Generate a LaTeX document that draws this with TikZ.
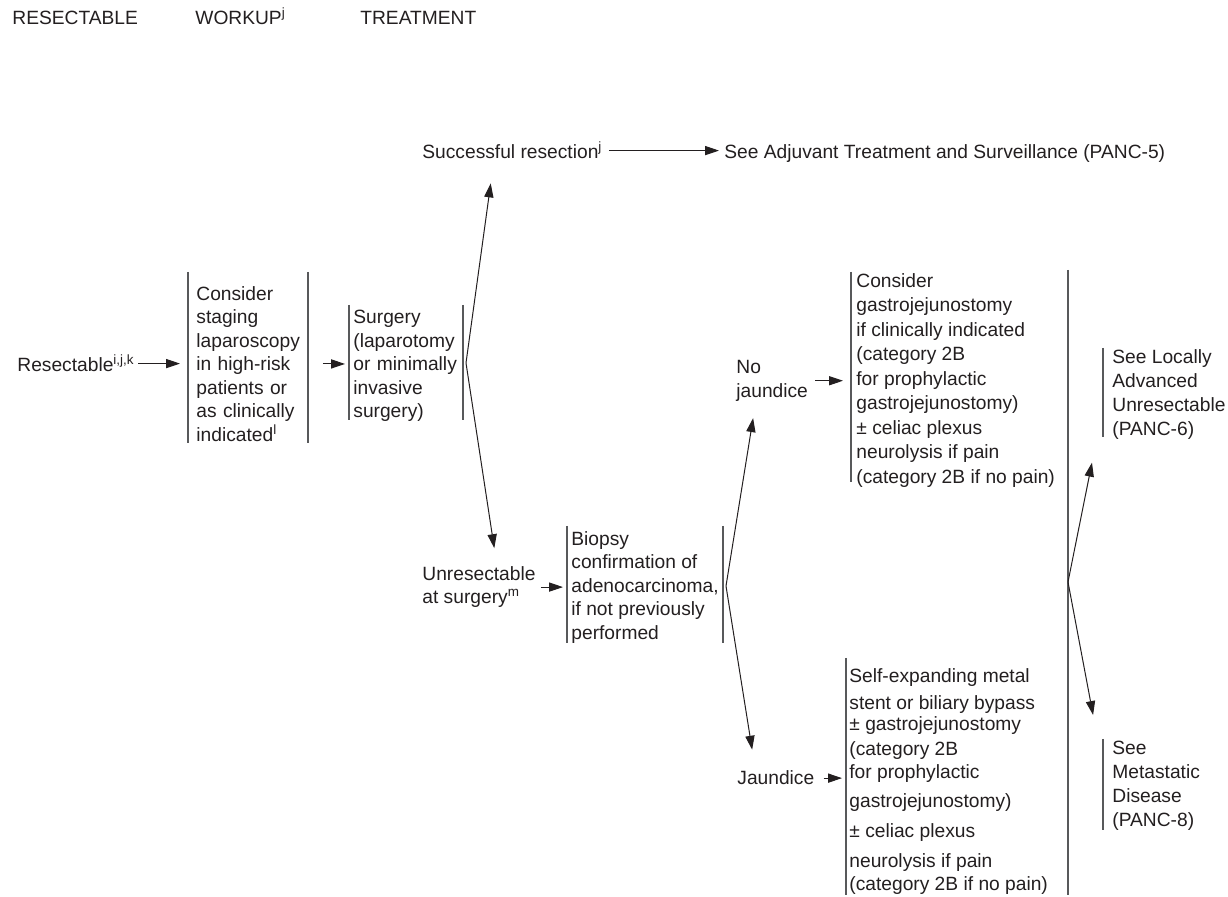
\documentclass[tikz,border=0pt]{standalone}
\usepackage{fontspec}
\setmainfont{Liberation Sans}
\usetikzlibrary{arrows.meta}
\definecolor{ink}{HTML}{231F20}
\definecolor{rule}{HTML}{58595B}

\begin{document}
\begin{tikzpicture}[x=0.5pt,y=-0.5pt,
    lbl/.style={anchor=base west, inner sep=0pt, text=ink, font=\fontsize{9.6}{11.75}\selectfont},
    box/.style={lbl, anchor=north west, align=left},
    bar/.style={draw=rule, line width=0.8pt},
    arr/.style={draw=ink, line width=0.5pt, -{Triangle[length=7pt,width=4.6pt]}}]
        \useasboundingbox (0,0) rectangle (1228,897);
        % column heads
        \node[lbl] (H1) at (12,25) {RESECTABLE};
        \node[lbl] (H2) at (195,25) {WORKUP\textsuperscript{j}};
        \node[lbl] (H3) at (360,25) {TREATMENT};
        % workup
        \node[lbl] (Res) at (17,372) {Resectable\textsuperscript{i,j,k}};
        \node[box, text width=52pt] (Stag) at (196,286) {Consider\\staging\\laparoscopy\\in high-risk\\patients or\\as clinically\\indicated\textsuperscript{l}};
        \draw[bar] (188,272) -- (188,443) (308,272) -- (308,443);
        \node[box, text width=52pt] (Surg) at (353,310) {Surgery\\(laparotomy\\or minimally\\invasive\\surgery)};
        \draw[bar] (349,305) -- (349,420) (463,305) -- (463,420);
        % treatment
        \node[lbl] (Succ) at (422,159) {Successful resection\textsuperscript{j}};
        \node[lbl] (Adj) at (724,159) {See Adjuvant Treatment and Surveillance (PANC-5)};
        \node[box] (Unres) at (422,566) {Unresectable\\at surgery\textsuperscript{m}};
        \node[box] (Biop) at (571,531) {Biopsy\\confirmation of\\adenocarcinoma,\\if not previously\\performed};
        \draw[bar] (567,526) -- (567,643) (723,526) -- (723,643);
        \node[box] (NoJ) at (736,360) {No\\jaundice};
        \node[lbl] (J) at (737,785) {Jaundice};
        \node[box, font=\fontsize{9.6}{12.25}\selectfont] (NoJT) at (856,273) {Consider\\gastrojejunostomy\\if clinically indicated\\(category 2B\\for prophylactic\\gastrojejunostomy)\\± celiac plexus\\neurolysis if pain\\(category 2B if no pain)};
        \draw[bar] (851,272) -- (851,482);
        \node[box] (JT) at (849,668) {Self-expanding metal\\[1.75pt]stent or biliary bypass\\[-1.25pt]± gastrojejunostomy\\[0.75pt](category 2B\\[-0.25pt]for prophylactic\\[2.75pt]gastrojejunostomy)\\[3.25pt]± celiac plexus\\[3.25pt]neurolysis if pain\\[-0.25pt](category 2B if no pain)};
        \draw[bar] (846,658) -- (846,895);
        \draw[bar] (1068,270) -- (1068,895);
        \node[box, font=\fontsize{9.6}{12}\selectfont] (Loc) at (1112,349) {See Locally\\Advanced\\Unresectable\\(PANC-6)};
        \draw[bar] (1103,348) -- (1103,437);
        \node[box, font=\fontsize{9.6}{12}\selectfont] (Met) at (1112,741) {See\\Metastatic\\Disease\\(PANC-8)};
        \draw[bar] (1103,739) -- (1103,830);
        % arrows
        \draw[arr, shorten <=1.5pt, shorten >=8pt] (Res.east) -- (Res.east -| Stag.west);
        \draw[arr, shorten <=11pt, shorten >=4pt] (Stag.east) -- (Stag.east -| Surg.west);
        \coordinate (F1) at (466,363);
        \draw[arr, shorten >=12pt] (F1) -- ([xshift=36pt]Succ.south west);
        \draw[arr, shorten >=9pt] (F1) -- ([xshift=37.5pt]Unres.north west);
        \draw[arr, shorten <=3pt, shorten >=2.5pt] (Succ.east) -- (Succ.east -| Adj.west);
        \draw[arr, shorten <=2.5pt, shorten >=4pt] (Unres.east) -- (Unres.east -| Biop.west);
        \coordinate (F2) at (726,586);
        \draw[arr, shorten >=8.4pt] (F2) -- ([xshift=9.9pt]NoJ.south west);
        \draw[arr, shorten >=10.6pt] (F2) -- ([xshift=9.25pt]J.north west);
        \draw[arr, shorten <=3.5pt, shorten >=6.5pt] (NoJ.east) -- (NoJ.east -| NoJT.west);
        \draw[arr, shorten <=4.5pt, shorten >=3.5pt] (J.east) -- (J.east -| JT.west);
        \coordinate (F3) at (1068,582);
        \draw[arr, shorten >=11.7pt] (F3) -- ([xshift=-7.7pt]Loc.south west);
        \draw[arr, shorten >=13.2pt] (F3) -- ([xshift=-7pt]Met.north west);
      \end{tikzpicture}
\end{document}
